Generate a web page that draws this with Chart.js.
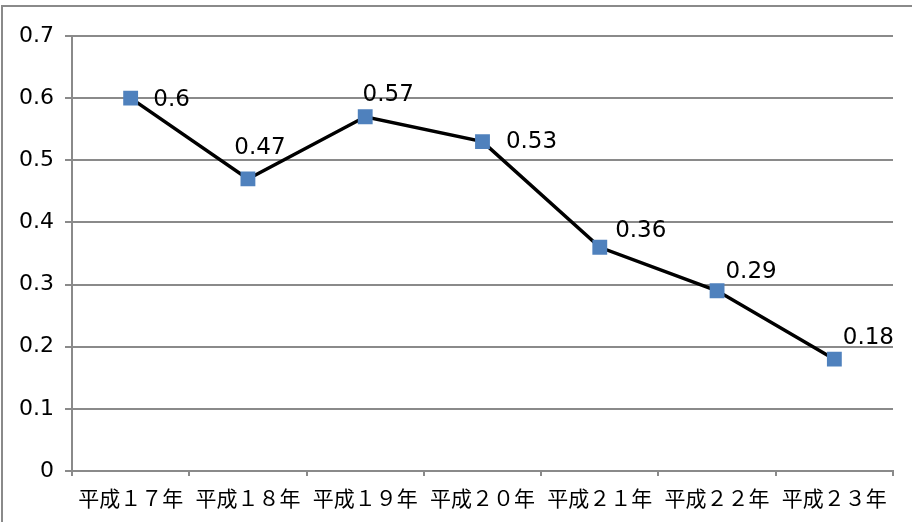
<!DOCTYPE html>
<html>
<head>
<meta charset="utf-8">
<script src="https://cdn.jsdelivr.net/npm/chart.js@4/dist/chart.umd.min.js"></script>
<style>
  html, body { margin: 0; padding: 0; background: #fff; }
  #wrap { position: relative; width: 912px; height: 522px; overflow: hidden; }
  #frame { position: absolute; left: 1px; top: 5px; width: 1000px; height: 600px; border: 2px solid #8a8a8a; }
  canvas { position: absolute; left: 0; top: 0; }
</style>
</head>
<body>
<div id="wrap">
  <div id="frame"></div>
  <canvas id="chart" width="912" height="522"></canvas>
</div>
<script>
// data
const categories = ['平成１７年', '平成１８年', '平成１９年', '平成２０年', '平成２１年', '平成２２年', '平成２３年'];
const values = [0.6, 0.47, 0.57, 0.53, 0.36, 0.29, 0.18];
const yTickLabels = ['0', '0.1', '0.2', '0.3', '0.4', '0.5', '0.6', '0.7'];

// where each value label sits relative to its marker (px)
const labelShift = [[41, 2], [12, -31], [23, -22], [49, 0], [41, -16], [34, -19], [34, -21]];

const numFont = "'DejaVu Sans', sans-serif";
const jpFont = "'Noto Sans CJK JP', sans-serif";
const gridGray = '#8a8a8a';

const valueLabels = {
    id: 'valueLabels',
    afterDatasetsDraw(chart) {
        const ctx = chart.ctx;
        const meta = chart.getDatasetMeta(0);
        ctx.save();
        ctx.font = "23px " + numFont;
        ctx.fillStyle = '#000';
        ctx.textAlign = 'center';
        ctx.textBaseline = 'middle';
        meta.data.forEach((pt, i) => {
            const s = labelShift[i];
            ctx.fillText(String(values[i]), pt.x + s[0], pt.y + s[1]);
        });
        ctx.restore();
    }
};

new Chart(document.getElementById('chart'), {
    type: 'line',
    data: {
        labels: categories,
        datasets: [{
            data: values,
            borderColor: '#000',
            borderWidth: 3.5,
            tension: 0,
            pointStyle: 'rect',
            pointRadius: 10.5,
            pointBackgroundColor: '#4F81BD',
            pointBorderColor: '#4F81BD',
            pointBorderWidth: 0
        }]
    },
    options: {
        responsive: false,
        animation: false,
        layout: { padding: { left: 0, right: 19, top: 36, bottom: 0 } },
        plugins: { legend: { display: false }, tooltip: { enabled: false } },
        scales: {
            x: {
                offset: true,
                grid: { offset: true, drawOnChartArea: false, drawTicks: true, tickLength: 5, color: gridGray, lineWidth: 2 },
                border: { color: gridGray, width: 2 },
                ticks: { font: { family: jpFont, size: 21 }, color: '#000', padding: 9, maxRotation: 0, autoSkip: false },
                afterFit: s => { s.height = 51; }
            },
            y: {
                min: 0,
                max: 0.7,
                ticks: {
                    stepSize: 0.1,
                    font: { family: numFont, size: 22 },
                    color: '#000',
                    padding: 11,
                    callback: (v, i) => yTickLabels[i]
                },
                grid: { color: gridGray, lineWidth: 2, tickLength: 7 },
                border: { color: gridGray, width: 2 },
                afterFit: s => { s.width = 72; }
            }
        }
    },
    plugins: [valueLabels]
});
</script>
</body>
</html>
